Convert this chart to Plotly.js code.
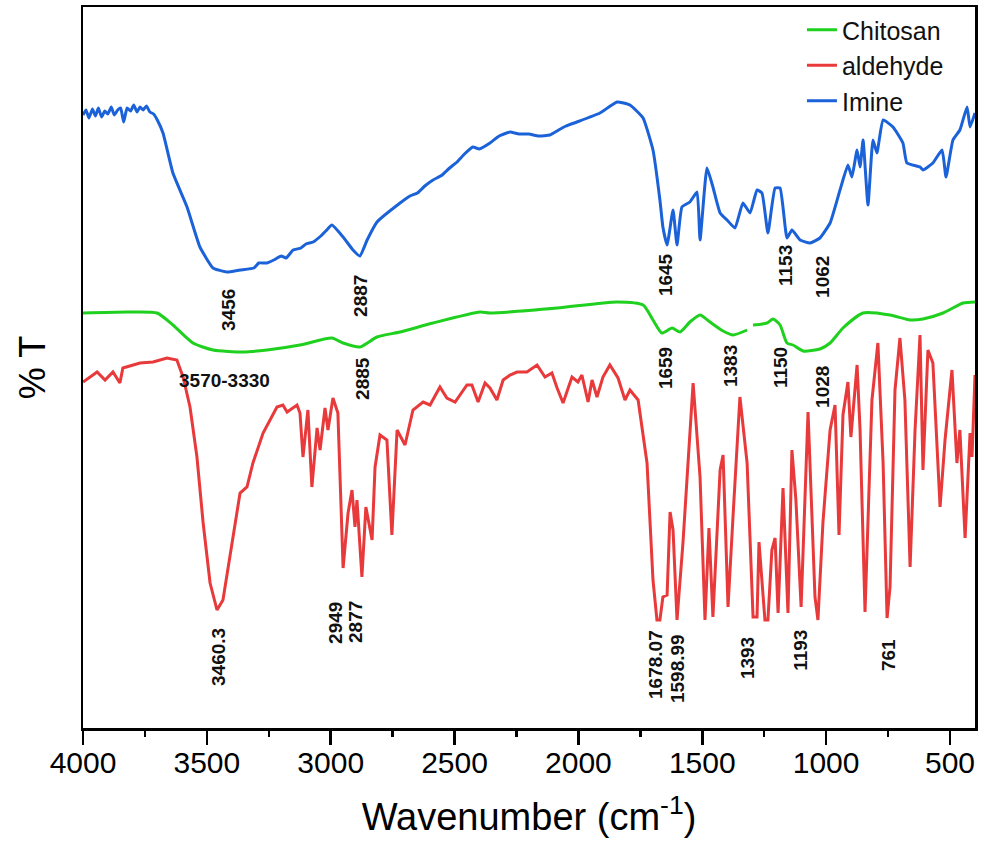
<!DOCTYPE html>
<html><head><meta charset="utf-8">
<script src="https://cdn.plot.ly/plotly-3.0.1.min.js"></script>
<style>html,body{margin:0;padding:0;background:#fff}</style>
</head><body><div id="chart" style="width:990px;height:847px"></div>
<script>
// Transmittance in arbitrary units (curves are vertically offset, as in the source figure)
const seriesNames = ["Chitosan", "aldehyde", "Imine"];

const chitosanWn = [4000,3822,3701,3637,3556,3475,3354,3257,3124,2995,2950,2882,2813,2720,2587,2397,2357,2086,1844,1739,1699,1663,1622,1590,1550,1509,1469,1416,1376,1319,1310,1295,1239,1214,1186,1158,1134,1093,1025,984,932,851,742,661,609,528,447,399];
const chitosanT  = [415,416,415,403,385,378,376,378,383,390,385,381,391,396,405,416,415,420,426,423,408,395,400,396,406,413,406,397,393,398,null,403,405,409,403,385,383,377,379,385,400,415,413,408,409,415,425,426];

const aldehydeWn = [4000,3943,3911,3879,3851,3839,3770,3717,3661,3621,3596,3568,3540,3515,3487,3459,3435,3407,3366,3338,3314,3273,3217,3193,3176,3136,3124,3112,3092,3076,3055,3043,3023,3011,2991,2971,2950,2930,2914,2902,2894,2874,2858,2833,2821,2801,2773,2753,2732,2700,2668,2627,2599,2559,2531,2498,2450,2430,2405,2377,2357,2329,2304,2276,2248,2208,2167,2135,2107,2086,2062,2026,2002,1986,1961,1945,1925,1901,1873,1840,1812,1792,1759,1723,1699,1683,1671,1659,1642,1630,1618,1602,1590,1578,1537,1509,1489,1473,1457,1428,1416,1396,1376,1348,1319,1295,1279,1271,1247,1235,1219,1206,1194,1174,1154,1138,1122,1101,1073,1045,1033,1013,984,964,948,932,912,900,875,863,843,815,791,770,754,742,722,702,682,661,641,621,609,589,569,540,520,492,472,460,439,419,411,399];
const aldehydeT  = [346,356,348,356,345,360,365,366,370,368,351,321,271,205,145,118,128,171,235,241,265,295,321,323,316,323,315,271,318,241,300,278,320,298,330,315,160,215,238,201,228,151,221,188,261,293,288,193,298,283,318,326,323,341,330,326,343,343,326,345,340,328,348,353,356,356,363,351,355,340,325,351,346,353,326,348,331,351,363,350,328,338,328,265,148,108,108,131,133,216,198,108,145,185,345,251,108,200,111,258,273,121,211,331,265,111,111,186,108,108,178,190,115,240,115,278,228,121,316,131,108,205,298,323,193,313,346,291,363,298,116,328,385,265,110,141,338,390,328,161,298,393,258,378,365,221,288,358,265,298,190,295,271,353];

const imineWn = [4000,3988,3976,3962,3950,3938,3925,3912,3900,3886,3874,3860,3848,3836,3822,3808,3795,3782,3770,3757,3744,3730,3715,3700,3677,3637,3580,3528,3475,3419,3366,3310,3290,3257,3230,3200,3180,3152,3120,3100,3071,3040,3020,2995,2950,2910,2882,2853,2813,2720,2680,2650,2620,2587,2550,2520,2490,2460,2426,2400,2357,2320,2276,2240,2200,2160,2115,2080,2050,2006,1913,1844,1792,1739,1699,1671,1659,1642,1618,1602,1582,1550,1521,1509,1481,1457,1428,1400,1368,1336,1307,1279,1259,1235,1206,1186,1158,1138,1105,1065,1025,984,944,912,896,875,863,851,831,811,795,770,730,690,674,621,609,569,532,516,488,460,431,419,399];
const imineT  = [613,618,610,619,612,620,611,617,614,621,613,618,620,606,620,617,623,616,621,618,622,616,614,608,595,555,521,481,460,456,458,460,465,465,468,472,470,478,480,484,486,492,497,503,491,478,472,488,506,525,532,535,542,548,553,560,566,574,581,579,585,592,596,594,594,592,593,598,602,606,615,626,623,610,578,528,501,483,518,483,521,526,536,488,560,541,515,508,500,525,515,538,535,495,540,540,490,498,488,485,490,505,538,563,551,578,561,588,523,588,575,608,601,585,565,561,558,565,578,551,588,598,621,601,615];

const xTickVals = [4000,3500,3000,2500,2000,1500,1000,500];
const xTickText = ["4000","3500","3000","2500","2000","1500","1000","500"];

// peak labels: [text, wavenumber, transmittance position, angle]
const peakLabels = [
  ["3456", 3415, 418, -90], ["2887", 2882, 432, -90], ["1645", 1650, 453, -90],
  ["1153", 1166, 462, -90], ["1062", 1017, 451, -90],
  ["3570-3330", 3427, 348, 0], ["2885", 2874, 350, -90], ["1659", 1650, 360, -90],
  ["1383", 1388, 362, -90], ["1150", 1186, 360, -90], ["1028", 1017, 341, -90],
  ["3460.3", 3455, 71, -90], ["2949", 2983, 105, -90], ["2877", 2902, 106, -90],
  ["1678.07", 1691, 64, -90], ["1598.99", 1602, 59, -90], ["1393", 1319, 70, -90],
  ["1193", 1106, 78, -90], ["761", 750, 73, -90]
];

const colors = ["#1fd01f", "#e8393b", "#1b62d9"];
const F = "Liberation Sans, Arial, sans-serif";

const traces = [
  {x: chitosanWn, y: chitosanT, name: seriesNames[0], type: "scatter", mode: "lines",
   line: {color: colors[0], width: 3, shape: "spline", smoothing: 0.6}, connectgaps: false},
  {x: aldehydeWn, y: aldehydeT, name: seriesNames[1], type: "scatter", mode: "lines",
   line: {color: colors[1], width: 3}},
  {x: imineWn, y: imineT, name: seriesNames[2], type: "scatter", mode: "lines",
   line: {color: colors[2], width: 3, shape: "spline", smoothing: 0.4}}
];

const annotations = peakLabels.map(p => ({
  text: p[0], x: p[1], y: p[2], xref: "x", yref: "y", showarrow: false,
  textangle: p[3], font: {family: F, size: 19, color: "#111", weight: "bold"}
}));

const layout = {
  width: 990, height: 847,
  margin: {l: 83, r: 15, t: 7, b: 119},
  paper_bgcolor: "#fff", plot_bgcolor: "#fff",
  showlegend: true,
  legend: {x: 0.806, xanchor: "left", y: 1.0, yanchor: "top",
           font: {family: F, size: 25, color: "#111"}, bgcolor: "rgba(0,0,0,0)",
           tracegroupgap: 0, itemwidth: 30},
  xaxis: {
    range: [4000, 399], autorange: false,
    tickvals: xTickVals, ticktext: xTickText,
    ticks: "outside", ticklen: 14, tickwidth: 2.5, tickcolor: "#000",
    minor: {dtick: 250, ticks: "outside", ticklen: 6, tickwidth: 2.5, tickcolor: "#000"},
    showgrid: false, zeroline: false,
    showline: true, linecolor: "#000", linewidth: 2.5, mirror: true,
    tickfont: {family: F, size: 30, color: "#000"},
    ticklabelstandoff: -8,
    title: {text: "Wavenumber (cm<sup>-1</sup>)", font: {family: F, size: 38, color: "#000"}, standoff: 26}
  },
  yaxis: {
    range: [0, 721], autorange: false,
    showticklabels: false, ticks: "", showgrid: false, zeroline: false,
    showline: true, linecolor: "#000", linewidth: 2.5, mirror: true,
    title: {text: "% T", font: {family: F, size: 36, color: "#000"}, standoff: 24}
  },
  annotations: annotations
};

Plotly.newPlot("chart", traces, layout, {displayModeBar: false, staticPlot: true});
</script>
</body></html>
